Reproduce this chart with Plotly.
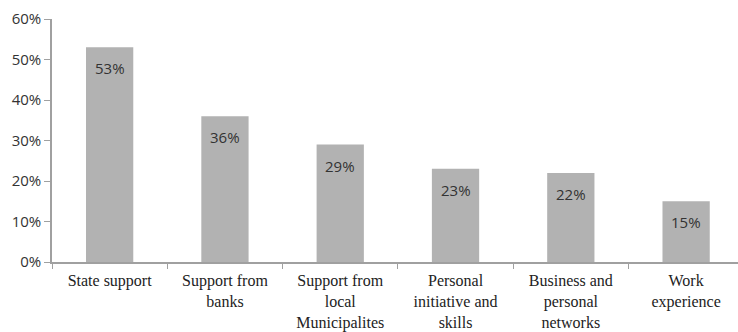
import plotly.graph_objects as go

categories = ["State support", "Support from<br>banks", "Support from<br>local<br>Municipalites",
              "Personal<br>initiative and<br>skills", "Business and<br>personal<br>networks", "Work<br>experience"]
values = [53, 36, 29, 23, 22, 15]
value_labels = ["53%", "36%", "29%", "23%", "22%", "15%"]
y_ticks = [0, 10, 20, 30, 40, 50, 60]
y_tick_labels = ["0%", "10%", "20%", "30%", "40%", "50%", "60%"]

fig = go.Figure()
fig.add_trace(go.Bar(x=categories, y=values, marker=dict(color="#b2b2b2", line=dict(width=0)),
                     width=0.41, hoverinfo="skip"))

for c, v, t in zip(categories, values, value_labels):
    fig.add_annotation(x=c, y=v, text=t, showarrow=False, yanchor="top", yshift=-9,
                       font=dict(family="Open Sans", size=15, color="#333333"))

fig.update_layout(
    width=738, height=332,
    margin=dict(l=52, r=0, t=19, b=70),
    paper_bgcolor="white", plot_bgcolor="white",
    showlegend=False,
    bargap=0.59,
    xaxis=dict(type="category", range=[-0.5, 5.45], tickson="boundaries", ticks="outside",
               ticklen=5, tickcolor="#a0a0a0", showline=True, linecolor="#a0a0a0", linewidth=1.5,
               showgrid=False, ticklabelstandoff=3,
               tickfont=dict(family="Liberation Serif, Times New Roman, serif", size=16, color="#222222")),
    yaxis=dict(range=[0, 60], tickvals=y_ticks, ticktext=y_tick_labels, ticks="outside",
               ticklen=6, tickcolor="#a0a0a0", showline=True, linecolor="#a0a0a0", linewidth=1.5,
               showgrid=False, zeroline=False,
               tickfont=dict(family="Open Sans", size=15, color="#333333")),
)

fig.write_html("out.html")
